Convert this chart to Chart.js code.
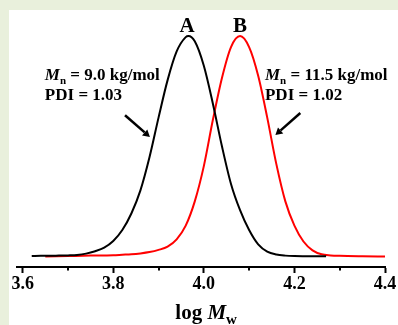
<!DOCTYPE html>
<html>
<head>
<meta charset="utf-8">
<script src="https://cdn.jsdelivr.net/npm/chart.js@4"></script>
<style>
  html, body { margin: 0; padding: 0; background: #e9f0dc; width: 398px; height: 325px; overflow: hidden; }
  #panel { position: absolute; left: 9px; top: 10px; width: 389px; height: 315px; background: #ffffff; }
  canvas { display: block; }
</style>
</head>
<body>
<div id="panel"><canvas id="c" width="389" height="315"></canvas></div>
<script>
// ---- data ----
const blackLogM = [3.62,3.64,3.66,3.68,3.70,3.72,3.74,3.76,3.78,3.80,3.82,3.84,3.86,3.88,3.90,3.92,3.94,3.96,3.966,3.98,4.00,4.02,4.04,4.06,4.08,4.10,4.12,4.14,4.16,4.18,4.20,4.24,4.27];
const blackSignal = [0.002,0.003,0.003,0.004,0.005,0.007,0.013,0.024,0.040,0.070,0.120,0.195,0.300,0.450,0.630,0.800,0.930,0.995,1.000,0.976,0.865,0.693,0.500,0.329,0.210,0.120,0.055,0.022,0.009,0.004,0.002,0.001,0.001];
const redLogM = [3.65,3.70,3.75,3.80,3.82,3.84,3.86,3.88,3.90,3.92,3.94,3.96,3.98,4.00,4.02,4.04,4.06,4.08,4.10,4.12,4.14,4.16,4.18,4.20,4.22,4.24,4.26,4.28,4.30,4.35,4.40];
const redSignal = [0.000,0.002,0.004,0.006,0.008,0.010,0.014,0.020,0.030,0.045,0.078,0.140,0.250,0.410,0.620,0.810,0.950,1.000,0.950,0.820,0.630,0.420,0.250,0.140,0.068,0.028,0.010,0.005,0.003,0.001,0.000];
const majorTicks = [3.6, 3.8, 4.0, 4.2, 4.4];
const minorTicks = [3.7, 3.9, 4.1, 4.3];
const tickLabels = ["3.6", "3.8", "4.0", "4.2", "4.4"];
const peakLabels = ["A", "B"];
const peakLogM = [3.963, 4.080];
const sampleMn = ["9.0 kg/mol", "11.5 kg/mol"];
const samplePDI = ["1.03", "1.02"];

const SERIF = '"Liberation Serif", "Times New Roman", serif';

function pts(xs, ys) { return xs.map((x, i) => ({ x: x, y: ys[i] })); }

function drawParts(ctx, x, y, parts) {
  let cx = x;
  parts.forEach(p => {
    ctx.font = p.font;
    ctx.fillText(p.text, cx, y + (p.dy || 0));
    cx += ctx.measureText(p.text).width;
  });
}

function arrow(ctx, x1, y1, x2, y2) {
  const ang = Math.atan2(y2 - y1, x2 - x1);
  const hl = 7, hw = 4;
  const bx = x2 - hl * Math.cos(ang), by = y2 - hl * Math.sin(ang);
  ctx.strokeStyle = '#000'; ctx.fillStyle = '#000';
  ctx.lineWidth = 2.5;
  ctx.beginPath(); ctx.moveTo(x1, y1); ctx.lineTo(bx, by); ctx.stroke();
  ctx.beginPath();
  ctx.moveTo(x2, y2);
  ctx.lineTo(bx + hw * Math.sin(ang), by - hw * Math.cos(ang));
  ctx.lineTo(bx - hw * Math.sin(ang), by + hw * Math.cos(ang));
  ctx.closePath(); ctx.fill();
}

const decor = {
  id: 'decor',
  afterDraw(chart) {
    const ctx = chart.ctx, xs = chart.scales.x, ys = chart.scales.y;
    const X = v => xs.getPixelForValue(v), Y = v => ys.getPixelForValue(v);
    ctx.save();
    // minor ticks
    ctx.strokeStyle = '#000'; ctx.lineWidth = 2;
    minorTicks.forEach(v => {
      const px = Math.round(X(v));
      ctx.beginPath(); ctx.moveTo(px, xs.top); ctx.lineTo(px, xs.top + 3.5); ctx.stroke();
    });
    ctx.fillStyle = '#000';
    ctx.textBaseline = 'alphabetic';
    // peak labels
    ctx.textAlign = 'center';
    ctx.font = 'bold 21px ' + SERIF;
    peakLabels.forEach((t, i) => ctx.fillText(t, X(peakLogM[i]), Y(1.018)));
    ctx.textAlign = 'left';
    const big = 'bold 17px ' + SERIF, it = 'italic bold 17px ' + SERIF, sub = 'bold 11px ' + SERIF;
    const lefts = [3.649, 4.135];
    lefts.forEach((lx, i) => {
      drawParts(ctx, X(lx), Y(0.80), [
        { text: 'M', font: it },
        { text: 'n', font: sub, dy: 4 },
        { text: ' = ' + sampleMn[i], font: big }
      ]);
      drawParts(ctx, X(lx), Y(0.71), [{ text: 'PDI = ' + samplePDI[i], font: big }]);
    });
    arrow(ctx, X(3.826), Y(0.641), X(3.881), Y(0.542));
    arrow(ctx, X(4.213), Y(0.651), X(4.158), Y(0.551));
    // axis title: log M_w
    const title = [
      { text: 'log ', font: 'bold 21px ' + SERIF },
      { text: 'M', font: 'italic bold 21px ' + SERIF },
      { text: 'w', font: 'bold 15px ' + SERIF, dy: 5 }
    ];
    let w = 0;
    title.forEach(p => { ctx.font = p.font; w += ctx.measureText(p.text).width; });
    drawParts(ctx, X(4.005) - w / 2, xs.bottom - 6, title);
    ctx.restore();
  }
};

new Chart(document.getElementById('c'), {
  type: 'line',
  data: {
    datasets: [
      { data: pts(blackLogM, blackSignal), borderColor: '#000000', borderWidth: 2, pointRadius: 0, cubicInterpolationMode: 'monotone', fill: false },
      { data: pts(redLogM, redSignal), borderColor: '#ff0000', borderWidth: 2, pointRadius: 0, cubicInterpolationMode: 'monotone', fill: false }
    ]
  },
  options: {
    responsive: false,
    animation: false,
    devicePixelRatio: 1,
    layout: { padding: { left: 8, right: 13, top: 4, bottom: 0 } },
    plugins: { legend: { display: false }, tooltip: { enabled: false }, title: { display: false } },
    scales: {
      x: {
        type: 'linear',
        min: 3.5875,
        max: 4.4,
        afterBuildTicks: s => { s.ticks = majorTicks.map(v => ({ value: v })); },
        afterFit: s => { s.height = 58; },
        border: { display: true, color: '#000', width: 2 },
        grid: { drawOnChartArea: false, drawTicks: true, tickLength: 6, tickColor: '#000', tickWidth: 2 },
        ticks: {
          autoSkip: false,
          maxRotation: 0,
          padding: 1,
          color: '#000',
          font: { family: SERIF, weight: 'bold', size: 18 },
          callback: (v) => { const i = majorTicks.findIndex(m => Math.abs(m - v) < 1e-6); return i >= 0 ? tickLabels[i] : ''; }
        }
      },
      y: {
        display: false,
        min: -0.0476,
        max: 1.1
      }
    }
  },
  plugins: [decor]
});
</script>
</body>
</html>
